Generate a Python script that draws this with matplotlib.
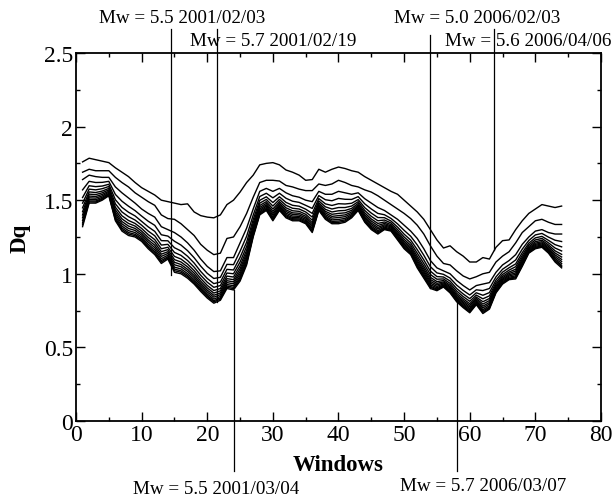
import numpy as np
import matplotlib
matplotlib.use("Agg")
import matplotlib.pyplot as plt
from matplotlib.ticker import MultipleLocator

plt.rcParams['font.family'] = ['Liberation Serif', 'DejaVu Serif']

windows = np.arange(1, 75)

dq_q1 = [1.76,1.785,1.775,1.765,1.755,1.72,1.69,1.66,1.62,1.585,
         1.56,1.535,1.50,1.49,1.48,1.47,1.475,1.42,1.395,1.385,
         1.38,1.40,1.47,1.50,1.555,1.62,1.67,1.74,1.75,1.755,
         1.74,1.705,1.69,1.67,1.635,1.64,1.71,1.69,1.71,1.725,
         1.715,1.70,1.69,1.66,1.635,1.61,1.585,1.56,1.54,1.50,
         1.46,1.42,1.37,1.30,1.23,1.175,1.19,1.15,1.12,1.08,
         1.08,1.11,1.10,1.18,1.225,1.23,1.30,1.36,1.41,1.44,
         1.47,1.46,1.45,1.46]
dq_q2 = [1.69,1.71,1.70,1.70,1.70,1.655,1.62,1.59,1.55,1.52,
         1.49,1.465,1.40,1.375,1.37,1.34,1.30,1.26,1.20,1.16,
         1.13,1.14,1.24,1.25,1.32,1.41,1.52,1.62,1.635,1.635,
         1.63,1.60,1.59,1.575,1.565,1.565,1.61,1.60,1.61,1.635,
         1.62,1.60,1.59,1.57,1.555,1.53,1.50,1.47,1.44,1.41,
         1.375,1.33,1.27,1.19,1.12,1.07,1.06,1.02,0.985,0.965,
         0.98,1.00,1.01,1.08,1.12,1.15,1.21,1.28,1.32,1.36,
         1.37,1.35,1.335,1.335]
dq_q3 = [1.64,1.67,1.66,1.655,1.655,1.59,1.55,1.515,1.48,1.44,
         1.41,1.385,1.32,1.30,1.28,1.25,1.21,1.16,1.10,1.05,
         1.015,1.02,1.11,1.11,1.21,1.31,1.44,1.56,1.58,1.56,
         1.58,1.55,1.53,1.52,1.50,1.49,1.56,1.54,1.54,1.56,
         1.55,1.54,1.55,1.51,1.48,1.45,1.43,1.40,1.37,1.33,
         1.29,1.24,1.17,1.09,1.04,1.02,1.00,0.955,0.92,0.89,
         0.92,0.93,0.94,1.01,1.06,1.09,1.13,1.20,1.25,1.29,
         1.30,1.28,1.27,1.27]
dq_q4 = [1.570,1.628,1.620,1.621,1.628,1.539,1.493,1.459,1.429,1.392,
         1.357,1.329,1.265,1.256,1.221,1.195,1.157,1.109,1.052,1.003,
         0.968,0.976,1.064,1.062,1.153,1.255,1.398,1.525,1.547,1.516,
         1.547,1.513,1.493,1.485,1.465,1.444,1.531,1.503,1.496,1.512,
         1.506,1.505,1.524,1.475,1.440,1.410,1.401,1.376,1.339,1.295,
         1.255,1.196,1.126,1.048,1.006,0.996,0.971,0.923,0.887,0.856,
         0.891,0.886,0.900,0.979,1.031,1.061,1.094,1.167,1.226,1.264,
         1.274,1.249,1.228,1.219]
dq_q5 = [1.518,1.598,1.592,1.596,1.608,1.503,1.451,1.418,1.393,1.356,
         1.319,1.288,1.225,1.224,1.177,1.155,1.119,1.073,1.016,0.968,
         0.933,0.944,1.030,1.026,1.111,1.215,1.368,1.499,1.523,1.484,
         1.523,1.485,1.465,1.459,1.439,1.410,1.511,1.475,1.464,1.476,
         1.474,1.479,1.504,1.449,1.412,1.382,1.381,1.358,1.317,1.269,
         1.229,1.164,1.094,1.018,0.981,0.978,0.951,0.900,0.863,0.831,
         0.871,0.854,0.872,0.957,1.011,1.041,1.067,1.143,1.208,1.244,
         1.254,1.227,1.198,1.183]
dq_q6 = [1.480,1.575,1.570,1.578,1.593,1.475,1.420,1.388,1.365,1.330,
         1.290,1.258,1.195,1.200,1.145,1.125,1.090,1.045,0.990,0.943,
         0.908,0.920,1.005,1.000,1.080,1.185,1.345,1.480,1.505,1.460,
         1.505,1.465,1.445,1.440,1.420,1.385,1.495,1.455,1.440,1.450,
         1.450,1.460,1.490,1.430,1.390,1.360,1.365,1.345,1.300,1.250,
         1.210,1.140,1.070,0.995,0.963,0.965,0.935,0.883,0.845,0.813,
         0.855,0.830,0.850,0.940,0.995,1.025,1.048,1.125,1.195,1.230,
         1.240,1.210,1.175,1.155]
dq_q7 = [1.448,1.556,1.552,1.562,1.580,1.452,1.394,1.362,1.342,1.308,
         1.266,1.232,1.170,1.180,1.118,1.100,1.066,1.022,0.968,0.921,
         0.886,0.900,0.984,0.978,1.054,1.160,1.326,1.464,1.490,1.440,
         1.490,1.448,1.428,1.424,1.404,1.364,1.482,1.438,1.420,1.428,
         1.430,1.444,1.478,1.414,1.372,1.342,1.352,1.334,1.286,1.234,
         1.194,1.120,1.050,0.976,0.947,0.954,0.922,0.868,0.830,0.797,
         0.842,0.810,0.832,0.926,0.982,1.012,1.031,1.110,1.184,1.218,
         1.228,1.196,1.156,1.132]
dq_q8 = [1.422,1.541,1.538,1.550,1.570,1.434,1.373,1.342,1.324,1.290,
         1.247,1.212,1.150,1.164,1.096,1.080,1.047,1.004,0.950,0.904,
         0.869,0.884,0.967,0.960,1.033,1.140,1.311,1.451,1.478,1.424,
         1.478,1.434,1.414,1.411,1.391,1.347,1.472,1.424,1.404,1.410,
         1.414,1.431,1.468,1.401,1.358,1.328,1.342,1.325,1.275,1.221,
         1.181,1.104,1.034,0.961,0.935,0.945,0.912,0.856,0.818,0.785,
         0.832,0.794,0.818,0.915,0.972,1.002,1.018,1.098,1.175,1.208,
         1.218,1.185,1.141,1.114]
dq_q9 = [1.400,1.528,1.525,1.539,1.561,1.418,1.355,1.324,1.308,1.275,
         1.230,1.194,1.133,1.150,1.078,1.063,1.030,0.988,0.935,0.889,
         0.854,0.870,0.953,0.945,1.015,1.123,1.298,1.440,1.468,1.410,
         1.468,1.423,1.403,1.400,1.380,1.333,1.463,1.413,1.390,1.395,
         1.400,1.420,1.460,1.390,1.345,1.315,1.333,1.318,1.265,1.210,
         1.170,1.090,1.020,0.948,0.924,0.938,0.903,0.846,0.808,0.774,
         0.823,0.780,0.805,0.905,0.963,0.993,1.006,1.088,1.168,1.200,
         1.210,1.175,1.128,1.098]
dq_q10 = [1.381,1.516,1.514,1.529,1.554,1.404,1.339,1.308,1.294,1.262,
          1.216,1.178,1.118,1.138,1.061,1.048,1.016,0.974,0.922,0.876,
          0.841,0.858,0.940,0.932,0.999,1.108,1.286,1.430,1.459,1.398,
          1.459,1.412,1.392,1.390,1.370,1.320,1.455,1.402,1.378,1.382,
          1.388,1.410,1.453,1.380,1.334,1.304,1.325,1.311,1.257,1.200,
          1.160,1.078,1.008,0.936,0.914,0.931,0.895,0.838,0.799,0.764,
          0.815,0.768,0.794,0.897,0.955,0.985,0.996,1.079,1.161,1.193,
          1.203,1.167,1.116,1.084]
dq_q11 = [1.362,1.505,1.503,1.520,1.546,1.390,1.324,1.293,1.280,1.249,
          1.201,1.163,1.103,1.126,1.045,1.033,1.001,0.960,0.909,0.863,
          0.828,0.846,0.927,0.919,0.984,1.093,1.275,1.421,1.450,1.386,
          1.450,1.402,1.382,1.381,1.361,1.307,1.447,1.392,1.366,1.369,
          1.376,1.401,1.446,1.371,1.323,1.293,1.317,1.304,1.248,1.191,
          1.151,1.066,0.996,0.925,0.905,0.924,0.887,0.829,0.790,0.755,
          0.807,0.756,0.783,0.888,0.947,0.977,0.986,1.070,1.154,1.186,
          1.196,1.158,1.105,1.070]
dq_q12 = [1.346,1.495,1.494,1.512,1.540,1.378,1.311,1.280,1.268,1.238,
          1.189,1.150,1.090,1.116,1.032,1.020,0.989,0.948,0.898,0.852,
          0.817,0.836,0.917,0.908,0.971,1.080,1.265,1.413,1.442,1.376,
          1.442,1.394,1.374,1.373,1.353,1.297,1.440,1.384,1.356,1.358,
          1.366,1.393,1.440,1.363,1.314,1.284,1.310,1.299,1.241,1.183,
          1.143,1.056,0.986,0.915,0.897,0.919,0.880,0.822,0.782,0.747,
          0.800,0.746,0.774,0.881,0.940,0.970,0.978,1.062,1.149,1.180,
          1.190,1.151,1.095,1.058]
dq_q13 = [1.333,1.488,1.487,1.506,1.535,1.369,1.300,1.270,1.259,1.229,
          1.180,1.140,1.080,1.108,1.021,1.010,0.980,0.939,0.889,0.844,
          0.809,0.828,0.908,0.899,0.960,1.070,1.258,1.406,1.436,1.368,
          1.436,1.387,1.367,1.366,1.346,1.288,1.435,1.377,1.348,1.349,
          1.358,1.386,1.435,1.356,1.307,1.277,1.305,1.294,1.236,1.176,
          1.136,1.048,0.978,0.908,0.891,0.914,0.875,0.816,0.776,0.741,
          0.795,0.738,0.767,0.876,0.935,0.965,0.972,1.056,1.144,1.175,
          1.185,1.146,1.088,1.049]
dq_q14 = [1.32,1.48,1.48,1.50,1.53,1.36,1.29,1.26,1.25,1.22,
          1.17,1.13,1.07,1.10,1.01,1.00,0.97,0.93,0.88,0.835,
          0.80,0.82,0.90,0.89,0.95,1.06,1.25,1.40,1.43,1.36,
          1.43,1.38,1.36,1.36,1.34,1.28,1.43,1.37,1.34,1.34,
          1.35,1.38,1.43,1.35,1.30,1.27,1.30,1.29,1.23,1.17,
          1.13,1.04,0.97,0.90,0.885,0.91,0.87,0.81,0.77,0.735,
          0.79,0.73,0.76,0.87,0.93,0.96,0.965,1.05,1.14,1.17,
          1.18,1.14,1.08,1.04]

curves = [dq_q1, dq_q2, dq_q3, dq_q4, dq_q5, dq_q6, dq_q7,
          dq_q8, dq_q9, dq_q10, dq_q11, dq_q12, dq_q13, dq_q14]

event_x = [14.5, 21.5, 24.0, 54.0, 58.0, 63.7]
event_labels = ["Mw = 5.5 2001/02/03", "Mw = 5.7 2001/02/19",
                "Mw = 5.5 2001/03/04", "Mw = 5.0 2006/02/03",
                "Mw = 5.7 2006/03/07", "Mw = 5.6 2006/04/06"]

fig = plt.figure(figsize=(6.14, 5.02), dpi=100)
ax = fig.add_axes([0.1238, 0.1594, 0.8550, 0.7331])

for c in curves:
    ax.plot(windows, c, color='black', lw=1.0)

# event lines: (start, end) in data units; some extend beyond the axes
line_spans = [(0.99, 2.66), (0.81, 2.66), (0.89, -0.34),
              (0.90, 2.62), (0.82, -0.34), (1.16, 2.66)]
for x, (y0, y1) in zip(event_x, line_spans):
    ax.plot([x, x], [y0, y1], color='black', lw=0.9, clip_on=False)

txt_kw = dict(fontsize=13.8, va='center', clip_on=False)
ax.text(16.2, 2.74, event_labels[0], ha='center', **txt_kw)
ax.text(30.1, 2.585, event_labels[1], ha='center', **txt_kw)
ax.text(21.3, -0.46, event_labels[2], ha='center', **txt_kw)
ax.text(61.1, 2.74, event_labels[3], ha='center', **txt_kw)
ax.text(62.0, -0.44, event_labels[4], ha='center', **txt_kw)
ax.text(81.6, 2.585, event_labels[5], ha='right', **txt_kw)

ax.set_xlim(0, 80)
ax.set_ylim(0, 2.5)
ax.xaxis.set_major_locator(MultipleLocator(10))
ax.xaxis.set_minor_locator(MultipleLocator(5))
ax.yaxis.set_major_locator(MultipleLocator(0.5))
ax.yaxis.set_minor_locator(MultipleLocator(0.25))
ax.yaxis.set_major_formatter(plt.FuncFormatter(lambda v, p: f"{v:g}"))
ax.tick_params(which='both', direction='in', top=True, right=True)
ax.tick_params(which='major', length=6.7, width=1.0, labelsize=17, pad=2)
ax.tick_params(which='minor', length=3.2, width=1.0)
for s in ax.spines.values():
    s.set_linewidth(1.3)

ax.set_xlabel("Windows", fontsize=16.5, fontweight='bold', va='center')
ax.xaxis.set_label_coords(0.5, -0.118)
ax.set_ylabel("Dq", fontsize=16.5, fontweight='bold', va='center')
ax.yaxis.set_label_coords(-0.107, 0.5)

fig.savefig("out.png", dpi=100)
